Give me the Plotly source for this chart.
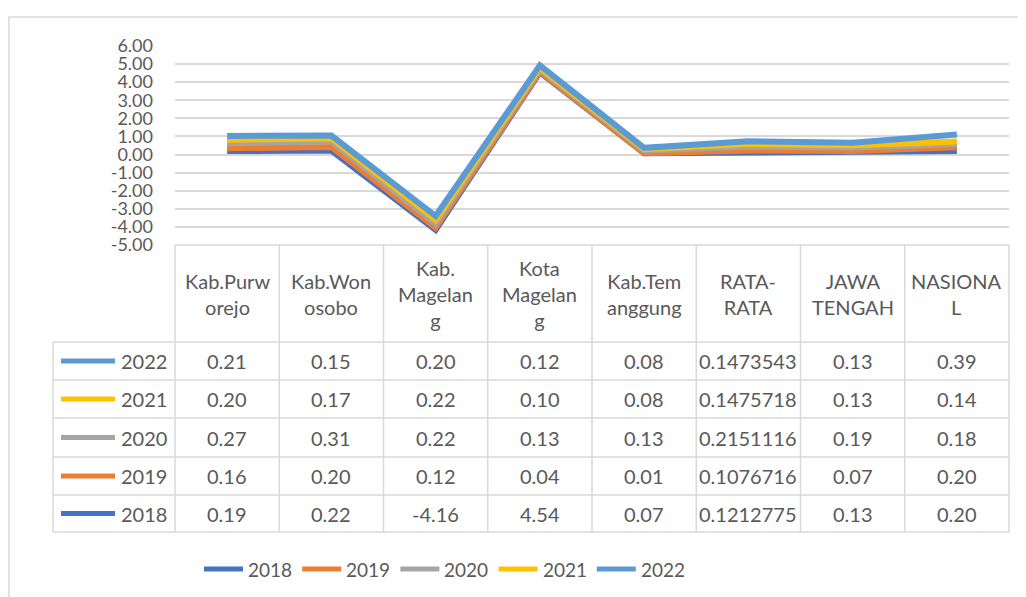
import plotly.graph_objects as go

# ---- data ----
categories = ["Kab.Purw<br>orejo", "Kab.Won<br>osobo", "Kab.<br>Magelan<br>g", "Kota<br>Magelan<br>g",
              "Kab.Tem<br>anggung", "RATA-<br>RATA", "JAWA<br>TENGAH", "NASIONA<br>L"]
years = ["2018", "2019", "2020", "2021", "2022"]
v2018 = [0.19, 0.22, -4.16, 4.54, 0.07, 0.1212775, 0.13, 0.20]
v2019 = [0.16, 0.20, 0.12, 0.04, 0.01, 0.1076716, 0.07, 0.20]
v2020 = [0.27, 0.31, 0.22, 0.13, 0.13, 0.2151116, 0.19, 0.18]
v2021 = [0.20, 0.17, 0.22, 0.10, 0.08, 0.1475718, 0.13, 0.14]
v2022 = [0.21, 0.15, 0.20, 0.12, 0.08, 0.1473543, 0.13, 0.39]
decimals = [2, 2, 2, 2, 2, 7, 2, 2]
y_ticks = [6, 5, 4, 3, 2, 1, 0, -1, -2, -3, -4, -5]

series = [v2018, v2019, v2020, v2021, v2022]
colors = ["#4472C4", "#ED7D31", "#A5A5A5", "#FFC000", "#5B9BD5"]

# ---- geometry (page pixels; page has an 8px body margin) ----
W, H = 1026, 597
OFF = 8
L, R, T, B = 175, 1009, 46, 245
FONT = "Lato"
TXT = "#595959"
GRID = "#D9D9D9"


def px2x(px):
    return (px - L) / (R - L)


def py2y(py):
    return (B - py) / (B - T)


fig = go.Figure()
idx = list(range(len(categories)))
for yr, vals, col in zip(years, series, colors):
    fig.add_trace(go.Scatter(
        x=idx, y=vals, name=yr, mode="lines", stackgroup="one", fill="none",
        line=dict(color=col, width=6), showlegend=False,
    ))

shapes = []
annotations = []

# outer border
shapes.append(dict(type="rect", xref="paper", yref="paper",
                   x0=px2x(9), x1=px2x(1040), y0=py2y(17), y1=py2y(610),
                   line=dict(color=GRID, width=1.5)))

# table geometry
col_w = (R - L) / len(categories)
row_edges = [342, 380, 418, 457, 495, 532]
row_centers = [(row_edges[i] + row_edges[i + 1]) / 2 for i in range(5)]
tbl_left = 53

# horizontal lines
shapes.append(dict(type="line", xref="paper", yref="paper", x0=0, x1=1,
                   y0=py2y(B), y1=py2y(B), line=dict(color=GRID, width=1.5)))
for ry in row_edges:
    shapes.append(dict(type="line", xref="paper", yref="paper", x0=px2x(tbl_left), x1=1,
                       y0=py2y(ry), y1=py2y(ry), line=dict(color=GRID, width=1.5)))
# vertical lines
for k in range(len(categories) + 1):
    xx = px2x(L + k * col_w)
    shapes.append(dict(type="line", xref="paper", yref="paper", x0=xx, x1=xx,
                       y0=py2y(B), y1=py2y(row_edges[-1]), line=dict(color=GRID, width=1.5)))
shapes.append(dict(type="line", xref="paper", yref="paper", x0=px2x(tbl_left), x1=px2x(tbl_left),
                   y0=py2y(row_edges[0]), y1=py2y(row_edges[-1]), line=dict(color=GRID, width=1.5)))

# header labels
for i, c in enumerate(categories):
    annotations.append(dict(x=i, xref="x", y=py2y((B + row_edges[0]) / 2), yref="paper",
                            text=c, showarrow=False, xanchor="center", yanchor="middle",
                            font=dict(family=FONT, size=20, color=TXT)))

# data rows (top row is 2022)
rows = list(zip(years, series, colors))[::-1]
for (yr, vals, col), cy in zip(rows, row_centers):
    shapes.append(dict(type="line", xref="paper", yref="paper", x0=px2x(61), x1=px2x(115),
                       y0=py2y(cy), y1=py2y(cy), line=dict(color=col, width=5)))
    annotations.append(dict(x=px2x(119), xref="paper", y=py2y(cy), yref="paper", text=yr,
                            showarrow=False, xanchor="left", yanchor="middle",
                            font=dict(family=FONT, size=20, color=TXT)))
    for i, v in enumerate(vals):
        annotations.append(dict(x=i, xref="x", y=py2y(cy), yref="paper",
                                text=f"{v:.{decimals[i]}f}", showarrow=False,
                                xanchor="center", yanchor="middle",
                                font=dict(family=FONT, size=20, color=TXT)))

# bottom legend
leg_y = 569
for k, (yr, col) in enumerate(zip(years, colors)):
    x0 = 204 + k * 98.2
    shapes.append(dict(type="line", xref="paper", yref="paper", x0=px2x(x0), x1=px2x(x0 + 39),
                       y0=py2y(leg_y), y1=py2y(leg_y), line=dict(color=col, width=5)))
    annotations.append(dict(x=px2x(x0 + 42), xref="paper", y=py2y(leg_y), yref="paper", text=yr,
                            showarrow=False, xanchor="left", yanchor="middle",
                            font=dict(family=FONT, size=19, color=TXT)))

fig.update_layout(
    width=W, height=H,
    margin=dict(l=L - OFF, r=W - R + OFF, t=T - OFF, b=H - B + OFF, pad=0),
    paper_bgcolor="white", plot_bgcolor="white",
    shapes=shapes, annotations=annotations,
    showlegend=False,
    xaxis=dict(range=[-0.5, len(categories) - 0.5], showgrid=False, zeroline=False,
               showline=False, showticklabels=False, ticks=""),
    yaxis=dict(range=[-5, 6], tickvals=y_ticks, ticktext=[f"{t:.2f}" for t in y_ticks],
               showgrid=True, gridcolor=GRID, gridwidth=1.5, zeroline=False, showline=False,
               ticks="", ticklabelstandoff=21,
               tickfont=dict(family=FONT, size=18, color=TXT)),
)

fig.write_html("out.html")
